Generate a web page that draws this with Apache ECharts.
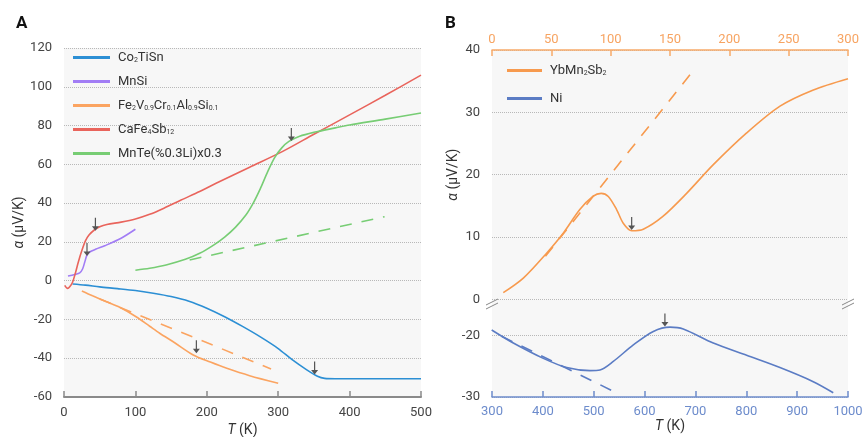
<!DOCTYPE html>
<html>
<head>
<meta charset="utf-8">
<script src="https://cdn.jsdelivr.net/npm/echarts@6/dist/echarts.min.js"></script>
<style>
  html, body { margin: 0; padding: 0; background: #fff; }
  #main { width: 865px; height: 437px; }
</style>
</head>
<body>
<div id="main"></div>
<script>
'use strict';
// ---- panel A data: [T (K), alpha (uV/K)] ----
var co2TiSn = [[12, -1.7], [30, -2.3], [50, -3.2], [75, -4.1], [100, -5.1], [125, -6.5], [150, -8.2], [175, -10.6],
  [200, -14.2], [225, -18.6], [250, -23.6], [275, -29], [300, -35], [320, -40.9], [340, -46], [355, -49.3],
  [365, -50.4], [380, -50.6], [500, -50.6]];
var mnSi = [[5.6, 2.4], [15, 3.2], [22, 4], [26, 6], [29, 9.5], [32, 13], [36, 14.8], [45, 16.3], [57, 18],
  [80, 21.9], [100, 26.5]];
var fe2VAl = [[25, -5.3], [40, -7.8], [59, -10.8], [78, -13.7], [101, -18.6], [120, -23.5], [134, -27.1],
  [155, -32], [181, -38.3], [205, -42], [228, -45.2], [260, -49], [300, -52.9]];
var fe2VAlFit = [[50, -9.5], [290, -45.5]];
var caFe4Sb12 = [[1, -2.4], [5, -4.0], [8, -3.2], [12, -0.8], [16, 4], [20, 9.5], [25, 15.5], [30, 20.5],
  [35, 23.5], [42, 26], [50, 27.8], [60, 29], [80, 30.2], [100, 31.8], [120, 34.2], [140, 37.4], [164, 41.6],
  [190, 46], [213, 50.2], [260, 58.5], [307, 66.8], [350, 75.5], [400, 85.5], [450, 95.6], [500, 106]];
var mnTe = [[100, 5.4], [120, 6.4], [143, 8.1], [170, 11], [190, 14.1], [210, 18.5], [225, 22.5], [240, 27.5],
  [255, 34], [265, 40], [275, 47.5], [285, 56], [295, 63.5], [305, 68.5], [315, 71.8], [330, 74.5],
  [350, 76.5], [380, 78.8], [400, 80.3], [450, 83.3], [500, 86.5]];
var mnTeFit = [[176, 10.7], [449, 33]];

// ---- panel B data ----
var ybMn2Sb2 = [[9.5, 1.06], [26.4, 3.4], [46, 7.4], [60, 10.6], [74, 14.4], [85, 16.5], [92, 17.0], [98, 16.5],
  [105, 14.4], [110.6, 12.2], [117.7, 11.0], [127.5, 11.25], [144, 13.3], [164, 17], [186.5, 21.6],
  [214.6, 26.7], [242.7, 31], [270.8, 33.6], [300, 35.4]];
var ybMn2Sb2Fit = [[45, 6.9], [170.5, 36.9]];
var ni = [[299.4, -19.07], [341.9, -21.2], [400.9, -23.7], [446.9, -25.2], [492.7, -25.7], [512.4, -25.6],
  [538.5, -24.2], [577.9, -21.5], [617.2, -19.3], [650, -18.6], [676.1, -18.9], [735.1, -21.2],
  [800.7, -23.2], [866.2, -25.2], [931.7, -27.5], [971, -29.3]];
var niFit = [[319, -20.1], [551.6, -29.6]];

// transition arrows: [T, alpha at arrow tip]
var arrowsCo2TiSn = [[351, -48.4]];
var arrowsFe2VAl = [[185.4, -37.4]];
var arrowsCaFe4Sb12 = [[44, 25.8]];
var arrowsMnSi = [[32.2, 12.7]];
var arrowsMnTe = [[318.4, 72]];
var arrowsYb = [[117.7, 11.1]];
var arrowsNi = [[640, -18.5]];

var legendA = ['Co2TiSn', 'MnSi', 'Fe2V0.9Cr0.1Al0.9Si0.1', 'CaFe4Sb12', 'MnTe(%0.3Li)x0.3'];
var legendB = ['YbMn2Sb2', 'Ni'];
var legendText = {
  'Co2TiSn': 'Co{s|2}TiSn',
  'MnSi': 'MnSi',
  'Fe2V0.9Cr0.1Al0.9Si0.1': 'Fe{s|2}V{s|0.9}Cr{s|0.1}Al{s|0.9}Si{s|0.1}',
  'CaFe4Sb12': 'CaFe{s|4}Sb{s|12}',
  'MnTe(%0.3Li)x0.3': 'MnTe(%0.3Li)x0.3',
  'YbMn2Sb2': 'YbMn{s|2}Sb{s|2}',
  'Ni': 'Ni'
};

var FONT = 'Roboto';
var ARROW = 'path://M3.4,0H4.6V8.5H7.5L4,13L0.5,8.5H3.4Z';
var gridLine = { show: true, lineStyle: { type: 'dotted', color: '#b8b8b8', width: 1 } };
var nameRich = { i: { fontStyle: 'italic', fontSize: 14, fontFamily: FONT, color: '#333' } };

function arrows(list) {
  return {
    symbol: ARROW,
    symbolSize: [7, 13],
    symbolOffset: [0, '-50%'],
    itemStyle: { color: '#555' },
    label: { show: false },
    data: list.map(function (p) { return { coord: p }; })
  };
}

function line(name, data, color, xi, yi, dashed, marks) {
  var s = {
    name: name,
    type: 'line',
    data: data,
    xAxisIndex: xi,
    yAxisIndex: yi,
    symbol: 'none',
    smooth: dashed ? false : 0.3,
    lineStyle: { color: color, width: 1.6, type: dashed ? [12, 10] : 'solid' },
    itemStyle: { color: color },
    z: dashed ? 2 : 3
  };
  if (marks) s.markPoint = arrows(marks);
  return s;
}

function extend(base, extra) {
  var o = {};
  Object.keys(base).forEach(function (k) { o[k] = base[k]; });
  Object.keys(extra).forEach(function (k) { o[k] = extra[k]; });
  return o;
}

var legendBase = {
  orient: 'vertical',
  icon: 'rect',
  itemWidth: 37,
  itemHeight: 3,
  padding: 0,
  textStyle: { fontSize: 13, color: '#333', fontFamily: FONT, padding: [0, 0, 0, 3],
    rich: { s: { fontSize: 7, verticalAlign: 'bottom', fontFamily: FONT, color: '#333' } } },
  formatter: function (n) { return legendText[n]; }
};

var plain = function (v) { return String(v); };
var gridBase = { show: true, backgroundColor: '#f7f7f7', borderWidth: 0, outerBoundsMode: 'none', containLabel: false };

var option = {
  animation: false,
  backgroundColor: '#fff',
  textStyle: { fontFamily: FONT },
  title: [
    { text: 'A', left: 11, top: 10, textStyle: { fontSize: 17, fontWeight: 'bold', color: '#111', fontFamily: FONT } },
    { text: 'B', left: 440, top: 10, textStyle: { fontSize: 17, fontWeight: 'bold', color: '#111', fontFamily: FONT } }
  ],
  legend: [
    extend(legendBase, { data: legendA, left: 73, top: 51, itemGap: 11 }),
    extend(legendBase, { data: legendB, left: 507, top: 64, itemGap: 15, itemWidth: 35 })
  ],
  grid: [
    extend(gridBase, { left: 64, right: 444, top: 48, bottom: 40 }),
    extend(gridBase, { left: 492, right: 17, top: 50, height: 249.3 }),
    extend(gridBase, { left: 492, right: 17, top: 299.3, bottom: 40 })
  ],
  xAxis: [
    {
      gridIndex: 0, type: 'value', min: 0, max: 500, interval: 100,
      name: '{i|T} (K)', nameLocation: 'middle', nameGap: 22,
      nameTextStyle: { fontSize: 14, color: '#333', rich: nameRich },
      axisLine: { onZero: false, lineStyle: { color: '#8a8a8a', width: 2 } },
      axisTick: { inside: true, length: 6, lineStyle: { color: '#8a8a8a', width: 1.5 } },
      axisLabel: { fontSize: 13, color: '#444', margin: 9, formatter: plain },
      splitLine: { show: false }
    },
    {
      gridIndex: 1, type: 'value', position: 'top', min: 0, max: 300, interval: 50,
      axisLine: { onZero: false, lineStyle: { color: '#f7ab6a', width: 1.5 } },
      axisTick: { inside: true, length: 6, lineStyle: { color: '#f7ab6a', width: 1.5 } },
      axisLabel: { fontSize: 13, color: '#f7a462', margin: 4, formatter: plain },
      splitLine: { show: false }
    },
    {
      gridIndex: 2, type: 'value', position: 'bottom', min: 300, max: 1000, interval: 100,
      name: '{i|T} (K)', nameLocation: 'middle', nameGap: 22,
      nameTextStyle: { fontSize: 14, color: '#333', rich: nameRich },
      axisLine: { onZero: false, lineStyle: { color: '#6d8ccc', width: 1.5 } },
      axisTick: { inside: true, length: 6, lineStyle: { color: '#6d8ccc', width: 1.5 } },
      axisLabel: { fontSize: 13, color: '#6d8ccc', margin: 8, formatter: plain },
      splitLine: { show: false }
    }
  ],
  yAxis: [
    {
      gridIndex: 0, type: 'value', min: -60, max: 120, interval: 20,
      name: '{i|α} (μV/K)', nameLocation: 'middle', nameGap: 34,
      nameTextStyle: { fontSize: 14, color: '#333', rich: nameRich },
      axisLine: { show: false }, axisTick: { show: false },
      axisLabel: { fontSize: 13, color: '#444', margin: 12 },
      splitLine: gridLine
    },
    {
      gridIndex: 1, type: 'value', min: 0, max: 40, interval: 10,
      name: '{i|α} (μV/K)', nameLocation: 'middle', nameGap: 32,
      nameTextStyle: { fontSize: 14, color: '#333', rich: nameRich },
      axisLine: { show: false }, axisTick: { show: false },
      axisLabel: { fontSize: 13, color: '#444', margin: 12 },
      splitLine: gridLine
    },
    {
      gridIndex: 2, type: 'value', min: -30, max: -14.06, interval: 10,
      axisLine: { show: false }, axisTick: { show: false },
      axisLabel: {
        fontSize: 13, color: '#444', margin: 12,
        formatter: function (v) { return v % 10 === 0 ? String(v) : ''; }
      },
      splitLine: gridLine
    }
  ],
  graphic: [
    { type: 'line', shape: { x1: 486, y1: 305, x2: 498, y2: 299 }, style: { stroke: '#888', lineWidth: 1 }, z: 100 },
    { type: 'line', shape: { x1: 486, y1: 309, x2: 498, y2: 303 }, style: { stroke: '#888', lineWidth: 1 }, z: 100 },
    { type: 'line', shape: { x1: 842, y1: 305, x2: 854, y2: 299 }, style: { stroke: '#888', lineWidth: 1 }, z: 100 },
    { type: 'line', shape: { x1: 842, y1: 309, x2: 854, y2: 303 }, style: { stroke: '#888', lineWidth: 1 }, z: 100 }
  ],
  series: [
    line('Co2TiSn', co2TiSn, '#2c8fd4', 0, 0, false, arrowsCo2TiSn),
    line('MnSi', mnSi, '#a27df5', 0, 0, false, arrowsMnSi),
    line('Fe2V0.9Cr0.1Al0.9Si0.1', fe2VAl, '#fba461', 0, 0, false, arrowsFe2VAl),
    line('Fe2V fit', fe2VAlFit, '#fba461', 0, 0, true),
    line('CaFe4Sb12', caFe4Sb12, '#e9645c', 0, 0, false, arrowsCaFe4Sb12),
    line('MnTe(%0.3Li)x0.3', mnTe, '#77cd74', 0, 0, false, arrowsMnTe),
    line('MnTe fit', mnTeFit, '#77cd74', 0, 0, true),
    line('YbMn2Sb2', ybMn2Sb2, '#f79a4e', 1, 1, false, arrowsYb),
    line('YbMn2Sb2 fit', ybMn2Sb2Fit, '#f79a4e', 1, 1, true),
    line('Ni', ni, '#5b7cc4', 2, 2, false, arrowsNi),
    line('Ni fit', niFit, '#5b7cc4', 2, 2, true)
  ]
};

echarts.init(document.getElementById('main')).setOption(option);
</script>
</body>
</html>
